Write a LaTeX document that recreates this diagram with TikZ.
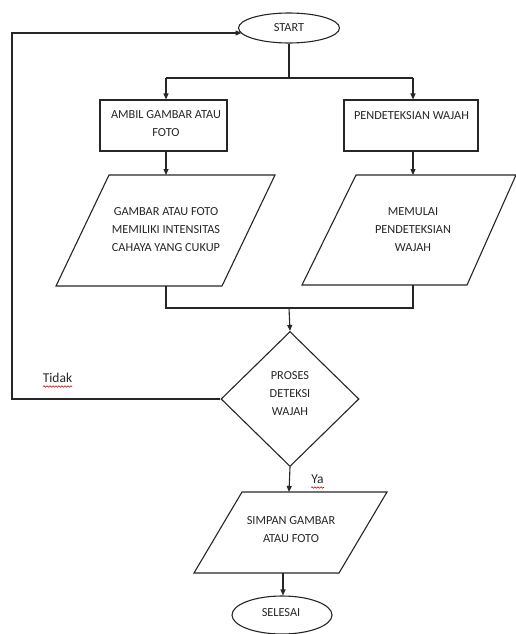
\documentclass[tikz,border=0pt]{standalone}
\usepackage{fontspec}
\setmainfont{Carlito}
\usetikzlibrary{shapes.geometric,arrows.meta,decorations.pathmorphing}
\begin{document}
\begin{tikzpicture}[x=1pt,y=-1pt,
  line/.style={draw=black!85,line width=1.1pt},
  arr/.style={line,-{Triangle[length=6pt,width=5pt]}},
  lbl/.style={font=\fontsize{12.3}{18}\selectfont,align=center,inner sep=0pt,text=black!85},
  side/.style={font=\fontsize{13.5}{15}\selectfont,inner sep=0pt,text=black!85},
  term/.style={ellipse,line,inner sep=0pt,font=\fontsize{12.3}{14}\selectfont,text=black!85},
  procbox/.style={rectangle,line,inner sep=0pt},
  io/.style={line},
  spell/.style={draw=red!85!black,line width=0.6pt,decorate,decoration={snake,segment length=3pt,amplitude=0.7pt}}
]
\useasboundingbox (0,0) rectangle (516,634);

% terminals
\node[term,minimum width=101,minimum height=30] (S) at (289,28) {START};
\node[term,minimum width=100,minimum height=38] (E) at (282,615) {};
\node[lbl] (Et) at (281,613) {SELESAI};

% process boxes
\node[procbox,minimum width=127,minimum height=51] (B1) at (163.5,125.5) {};
\node[procbox,minimum width=134,minimum height=51] (B2) at (411,125.5) {};
\node[lbl] (B1t) at (166,124) {AMBIL GAMBAR ATAU\\FOTO};
\node[lbl] (B2t) at (411.5,116) {PENDETEKSIAN WAJAH};

% parallelograms
\draw[io] (109,175) -- (275,175) -- (222,286) -- (56,286) -- cycle;
\coordinate (P1top) at (166,175);
\coordinate (P1bot) at (166,286);
\node[lbl] (P1t) at (166,230) {GAMBAR ATAU FOTO\\MEMILIKI INTENSITAS\\CAHAYA YANG CUKUP};

\draw[io] (356,175) -- (516,175) -- (467,285) -- (302,285) -- cycle;
\coordinate (P2top) at (413,175);
\coordinate (P2bot) at (413,285);
\node[lbl] (P2t) at (413,230) {MEMULAI\\PENDETEKSIAN\\WAJAH};

\draw[io] (242,492) -- (387,492) -- (339,573) -- (194,573) -- cycle;
\coordinate (P3top) at (289,492);
\coordinate (P3bot) at (283,573);
\node[lbl] (P3t) at (291,529.5) {SIMPAN GAMBAR\\ATAU FOTO};

% decision
\node[diamond,line,minimum width=138,minimum height=135,inner sep=0pt] (D) at (290,399) {};
\node[lbl] (Dt) at (290,394) {PROSES\\DETEKSI\\WAJAH};

% connectors
\coordinate (split) at (289,78);
\coordinate (brL) at (166,78);
\coordinate (brR) at (413,78);
\draw[line] (S.south) -- (split);
\draw[line] (brL) -- (brR);
\draw[arr] (brL) -- (brL |- B1.north);
\draw[arr] (brR) -- (brR |- B2.north);
\draw[arr] (B1.south -| P1top) -- (P1top);
\draw[arr] (B2.south -| P2top) -- (P2top);

\coordinate (mL) at (166,308);
\coordinate (mR) at (413,308);
\coordinate (mM) at (289,308);
\draw[line] (P1bot) -- (mL) -- (mR) -- (P2bot);
\draw[arr] (mM) -- (D.north);

\coordinate (loopB) at (12,399);
\coordinate (loopT) at (12,33);
\coordinate (loopE) at (241.5,33);
\draw[arr] (D.west) -- (loopB) -- (loopT) -- (loopE);

\draw[arr] (D.south) -- (P3top);
\draw[arr] (P3bot) -- (P3bot |- E.north);

% labels
\node[side] (tidak) at (57.5,378) {Tidak};
\node[side] (ya) at (317.5,479) {Ya};
\draw[spell] (43,386.5) -- (72,386.5);
\draw[spell] (311,487.5) -- (324,487.5);
\end{tikzpicture}
\end{document}
